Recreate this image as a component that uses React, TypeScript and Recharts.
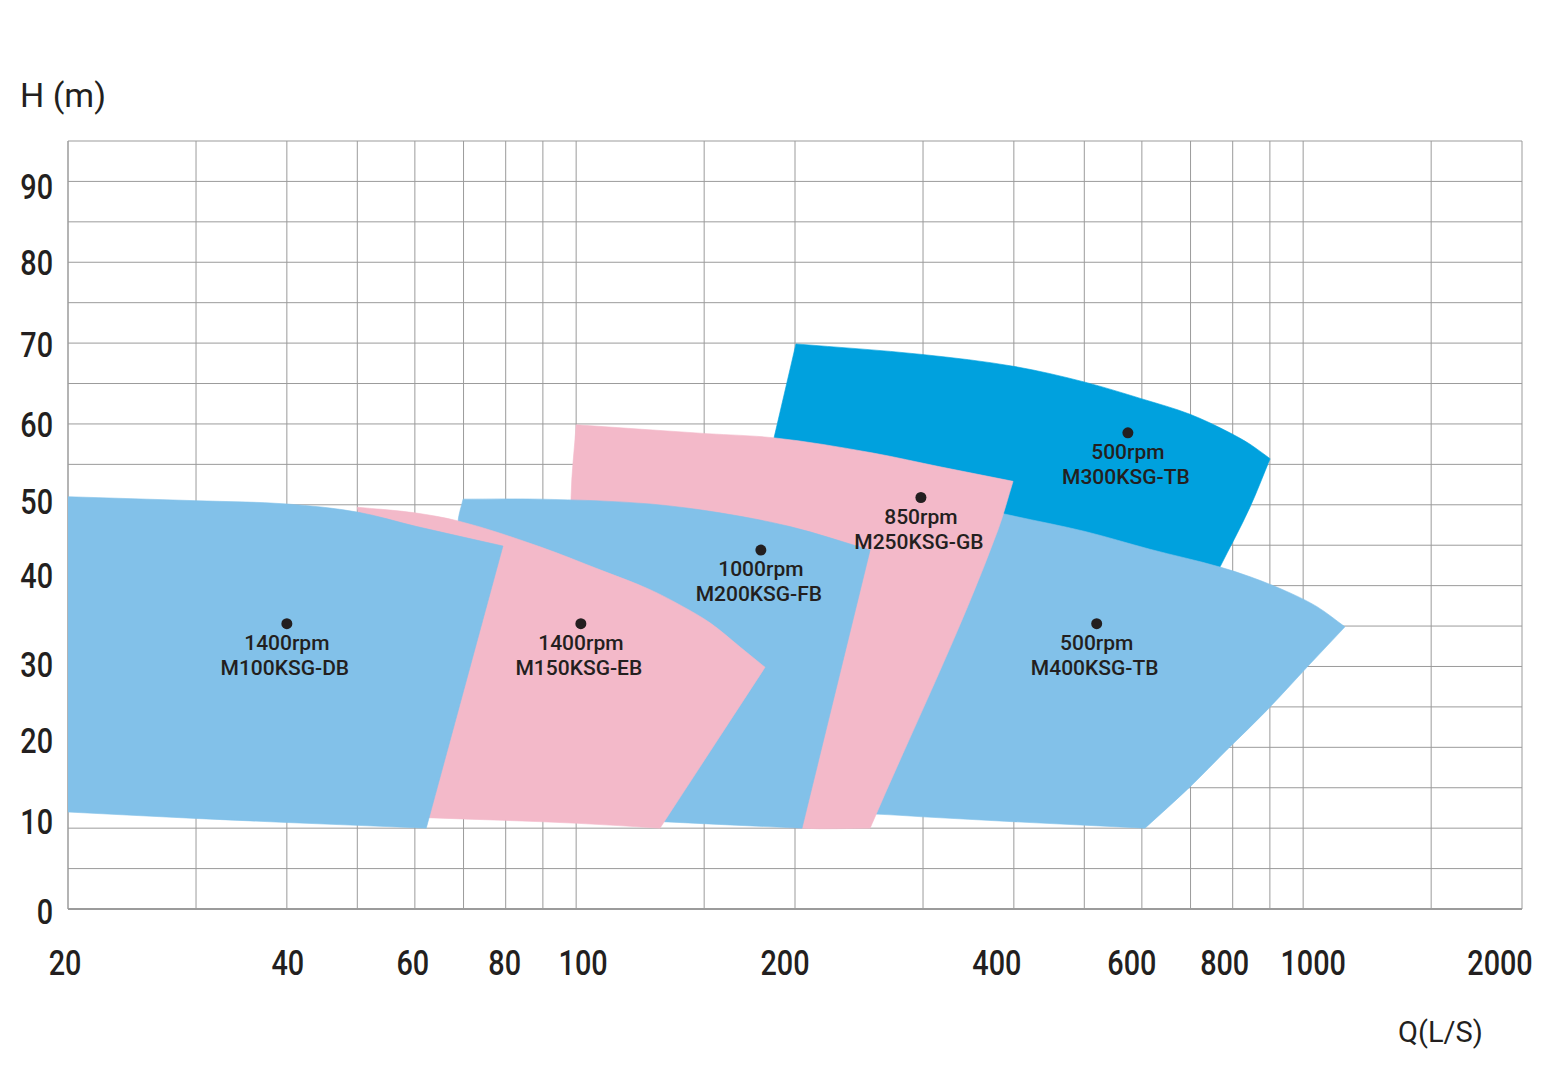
import React from "react";
import { CartesianGrid, Scatter, ScatterChart, XAxis, YAxis } from "recharts";

// axis ticks (grid lines) and which of them carry a label
const xTicks = [20, 30, 40, 50, 60, 70, 80, 90, 100, 150, 200, 300, 400, 500, 600, 700, 800, 900, 1000, 1500, 2000];
const xLabels = [20, 40, 60, 80, 100, 200, 400, 600, 800, 1000, 2000];
const yTicks = [0, 5, 10, 15, 20, 25, 30, 35, 40, 45, 50, 55, 60, 65, 70, 75, 80, 85, 90, 95];
const yLabels = [0, 10, 20, 30, 40, 50, 60, 70, 80, 90];

type Pt = { q: number; h: number };

// operating ranges, outline vertices (Q in L/S, H in m)
const m300: Pt[] = [
  { q: 200.6, h: 69.9 }, { q: 299, h: 68.6 }, { q: 401.5, h: 67.1 }, { q: 499.6, h: 65.2 },
  { q: 600.2, h: 63.1 }, { q: 698.8, h: 61.2 }, { q: 793, h: 58.9 }, { q: 845, h: 57.5 },
  { q: 900.6, h: 55.7 }, { q: 845, h: 49.7 }, { q: 768.4, h: 42.3 }, { q: 615.6, h: 40.1 },
  { q: 326.9, h: 43.2 }, { q: 186.5, h: 57.7 },
];

const m400: Pt[] = [
  { q: 365, h: 49.4 }, { q: 400.2, h: 48.6 }, { q: 501.2, h: 46.7 }, { q: 615.6, h: 44.5 },
  { q: 768.4, h: 42.3 }, { q: 845.2, h: 41.1 }, { q: 959.4, h: 39.1 }, { q: 1044.8, h: 37.4 },
  { q: 1141.6, h: 34.9 }, { q: 1012, h: 29.9 }, { q: 892, h: 24.6 }, { q: 785.7, h: 19.7 },
  { q: 698.8, h: 15.1 }, { q: 606, h: 10.0 }, { q: 399, h: 10.8 }, { q: 300, h: 11.4 },
  { q: 257.6, h: 11.75 }, { q: 252, h: 11.75 },
];

const m250: Pt[] = [
  { q: 100, h: 59.9 }, { q: 151.4, h: 58.8 }, { q: 186.5, h: 58.3 }, { q: 256.2, h: 56.4 },
  { q: 316.6, h: 54.7 }, { q: 399, h: 52.9 }, { q: 380.4, h: 46.9 }, { q: 253.7, h: 10.0 },
  { q: 204.5, h: 10.0 }, { q: 101.2, h: 13.5 }, { q: 98.4, h: 50.9 },
];

const m200: Pt[] = [
  { q: 69.9, h: 50.7 }, { q: 89.2, h: 50.7 }, { q: 126.4, h: 50.1 }, { q: 157.7, h: 49.0 },
  { q: 196.9, h: 47.3 }, { q: 253.7, h: 44.4 }, { q: 204.5, h: 10.0 }, { q: 131.7, h: 10.8 },
  { q: 107.9, h: 11.3 }, { q: 71.5, h: 12.9 }, { q: 68.8, h: 48.0 },
];

const m150: Pt[] = [
  { q: 50, h: 49.7 }, { q: 60, h: 49.0 }, { q: 68.8, h: 48.0 }, { q: 89.2, h: 44.8 },
  { q: 107.9, h: 41.95 }, { q: 126.4, h: 39.5 }, { q: 140.3, h: 37.4 }, { q: 152.8, h: 35.4 },
  { q: 168.1, h: 32.4 }, { q: 181.9, h: 29.9 }, { q: 130.4, h: 10.0 }, { q: 100.5, h: 10.6 },
  { q: 62.3, h: 11.3 },
];

const m100: Pt[] = [
  { q: 20, h: 51.0 }, { q: 30.1, h: 50.5 }, { q: 40, h: 50.1 }, { q: 50, h: 49.1 },
  { q: 60.4, h: 47.3 }, { q: 79.3, h: 44.9 }, { q: 62.2, h: 10.0 }, { q: 40, h: 10.7 },
  { q: 30, h: 11.2 }, { q: 20, h: 12.0 },
];

// best efficiency points and their captions
const pumpModels = ["M100KSG-DB", "M150KSG-EB", "M200KSG-FB", "M250KSG-GB", "M300KSG-TB", "M400KSG-TB"];
const pumpSpeeds = ["1400rpm", "1400rpm", "1000rpm", "850rpm", "500rpm", "500rpm"];
const bestQ = [40, 101.5, 179.5, 298, 574, 520];
const bestH = [35.3, 35.3, 44.4, 50.9, 58.9, 35.3];

const markers = pumpModels.map((model, i) => ({ q: bestQ[i], h: bestH[i], model, rpm: pumpSpeeds[i] }));

const LIGHT_BLUE = "#82c1e9";
const PINK = "#f3b9c9";
const DARK_BLUE = "#00a1de";
const TEXT = "#231f20";
const GRID = "#9b9b9b";
const FONT = "Roboto, 'Open Sans', sans-serif";

// small nudges so the axis numbers sit where the original artwork put them
const xLabelNudge: Record<number, number> = {
  20: -3, 40: 1, 60: -2, 80: -1, 100: 7, 200: -10, 400: -17, 600: -10, 800: -8, 1000: 10, 2000: -22,
};
const yLabelNudge: Record<number, number> = {
  0: 2, 10: -7, 20: -7, 30: -2, 40: -10, 50: -4, 60: 0, 70: 1, 80: 0, 90: 5,
};

// closed outline; gentle bends are drawn smooth, sharp turns stay corners
const outlinePath = (pts: { x: number; y: number }[]) => {
  const n = pts.length;
  const dir = (a: any, b: any) => {
    const dx = b.x - a.x;
    const dy = b.y - a.y;
    const l = Math.hypot(dx, dy) || 1;
    return { x: dx / l, y: dy / l };
  };
  const tangents = pts.map((p, i) => {
    const din = dir(pts[(i - 1 + n) % n], p);
    const dout = dir(p, pts[(i + 1) % n]);
    if (din.x * dout.x + din.y * dout.y < Math.cos((28 * Math.PI) / 180)) return null;
    const sx = din.x + dout.x;
    const sy = din.y + dout.y;
    const l = Math.hypot(sx, sy) || 1;
    return { x: sx / l, y: sy / l };
  });
  let d = `M${pts[0].x},${pts[0].y}`;
  for (let i = 0; i < n; i++) {
    const a = pts[i];
    const b = pts[(i + 1) % n];
    const len = Math.hypot(b.x - a.x, b.y - a.y);
    const s = dir(a, b);
    const ta = tangents[i] || s;
    const tb = tangents[(i + 1) % n] || s;
    d += ` C${a.x + (ta.x * len) / 3},${a.y + (ta.y * len) / 3} ${b.x - (tb.x * len) / 3},${b.y - (tb.y * len) / 3} ${b.x},${b.y}`;
  }
  return d + " Z";
};

const polygonLine = (fill: string) => (props: any) => {
  const pts = (props.points || []).filter((p: any) => p && p.x != null && p.y != null);
  if (!pts.length) return <g />;
  return <path d={outlinePath(pts)} fill={fill} stroke={fill} strokeWidth={0.6} />;
};

const NoDot = () => <g />;

const MarkerShape = (props: any) => {
  const { cx, cy, payload } = props;
  return (
    <g>
      <circle cx={cx} cy={cy} r={5.5} fill={TEXT} />
      <text x={cx} y={cy + 26} textAnchor="middle" fontSize={21} fontWeight={500} fill={TEXT} fontFamily={FONT}>
        {payload.rpm}
      </text>
      <text x={cx - 2} y={cy + 51} textAnchor="middle" fontSize={21} fontWeight={500} fill={TEXT} fontFamily={FONT}>
        {payload.model}
      </text>
    </g>
  );
};

const XTick = (props: any) => {
  const { x, y, payload } = props;
  if (!xLabels.includes(payload.value)) return <g />;
  const tx = x + (xLabelNudge[payload.value] || 0);
  return (
    <text
      transform={`translate(${tx},${y + 64}) scale(0.8,1)`}
      textAnchor="middle"
      fontSize={36}
      fontWeight={500}
      fill={TEXT}
      fontFamily={FONT}
    >
      {payload.value}
    </text>
  );
};

const YTick = (props: any) => {
  const { x, y, payload } = props;
  if (!yLabels.includes(payload.value)) return <g />;
  const ty = y + (yLabelNudge[payload.value] || 0) + 12.8;
  return (
    <text
      transform={`translate(${x},${ty}) scale(0.8,1)`}
      textAnchor="end"
      fontSize={36}
      fontWeight={500}
      fill={TEXT}
      fontFamily={FONT}
    >
      {payload.value}
    </text>
  );
};

const areas: { key: string; data: Pt[]; color: string }[] = [
  { key: "m300", data: m300, color: DARK_BLUE },
  { key: "m400", data: m400, color: LIGHT_BLUE },
  { key: "m250", data: m250, color: PINK },
  { key: "m200", data: m200, color: LIGHT_BLUE },
  { key: "m150", data: m150, color: PINK },
  { key: "m100", data: m100, color: LIGHT_BLUE },
];

export default function App() {
  return (
    <div style={{ position: "absolute", left: 0, top: 0, width: 1550, height: 1080, background: "#fff" }}>
      <ScatterChart width={1550} height={1080} margin={{ top: 141, right: 28, bottom: 91, left: 0 }}>
        <CartesianGrid stroke={GRID} strokeWidth={1} horizontalValues={yTicks} verticalValues={xTicks} />
        <XAxis
          type="number"
          dataKey="q"
          scale="log"
          domain={[20, 2000]}
          allowDataOverflow
          ticks={xTicks}
          interval={0}
          tick={<XTick />}
          tickLine={false}
          tickSize={0}
          axisLine={{ stroke: GRID, strokeWidth: 2 }}
          height={80}
          label={{
            content: () => (
              <text x={1398} y={1042} fontSize={29} fill={TEXT} fontFamily={FONT}>
                Q(L/S)
              </text>
            ),
          }}
        />
        <YAxis
          type="number"
          dataKey="h"
          domain={[0, 95]}
          allowDataOverflow
          ticks={yTicks}
          interval={0}
          tick={<YTick />}
          tickLine={false}
          tickSize={0}
          tickMargin={15}
          axisLine={{ stroke: GRID, strokeWidth: 1 }}
          width={68}
          label={{
            content: () => (
              <text x={20} y={107} fontSize={34} fill={TEXT} fontFamily={FONT}>
                H (m)
              </text>
            ),
          }}
        />
        {areas.map((a) => (
          <Scatter
            key={a.key}
            name={a.key}
            data={a.data}
            fill={a.color}
            line={polygonLine(a.color)}
            lineType="joint"
            shape={NoDot}
            isAnimationActive={false}
          />
        ))}
        <Scatter name="markers" data={markers} fill={TEXT} shape={MarkerShape} isAnimationActive={false} />
      </ScatterChart>
    </div>
  );
}
